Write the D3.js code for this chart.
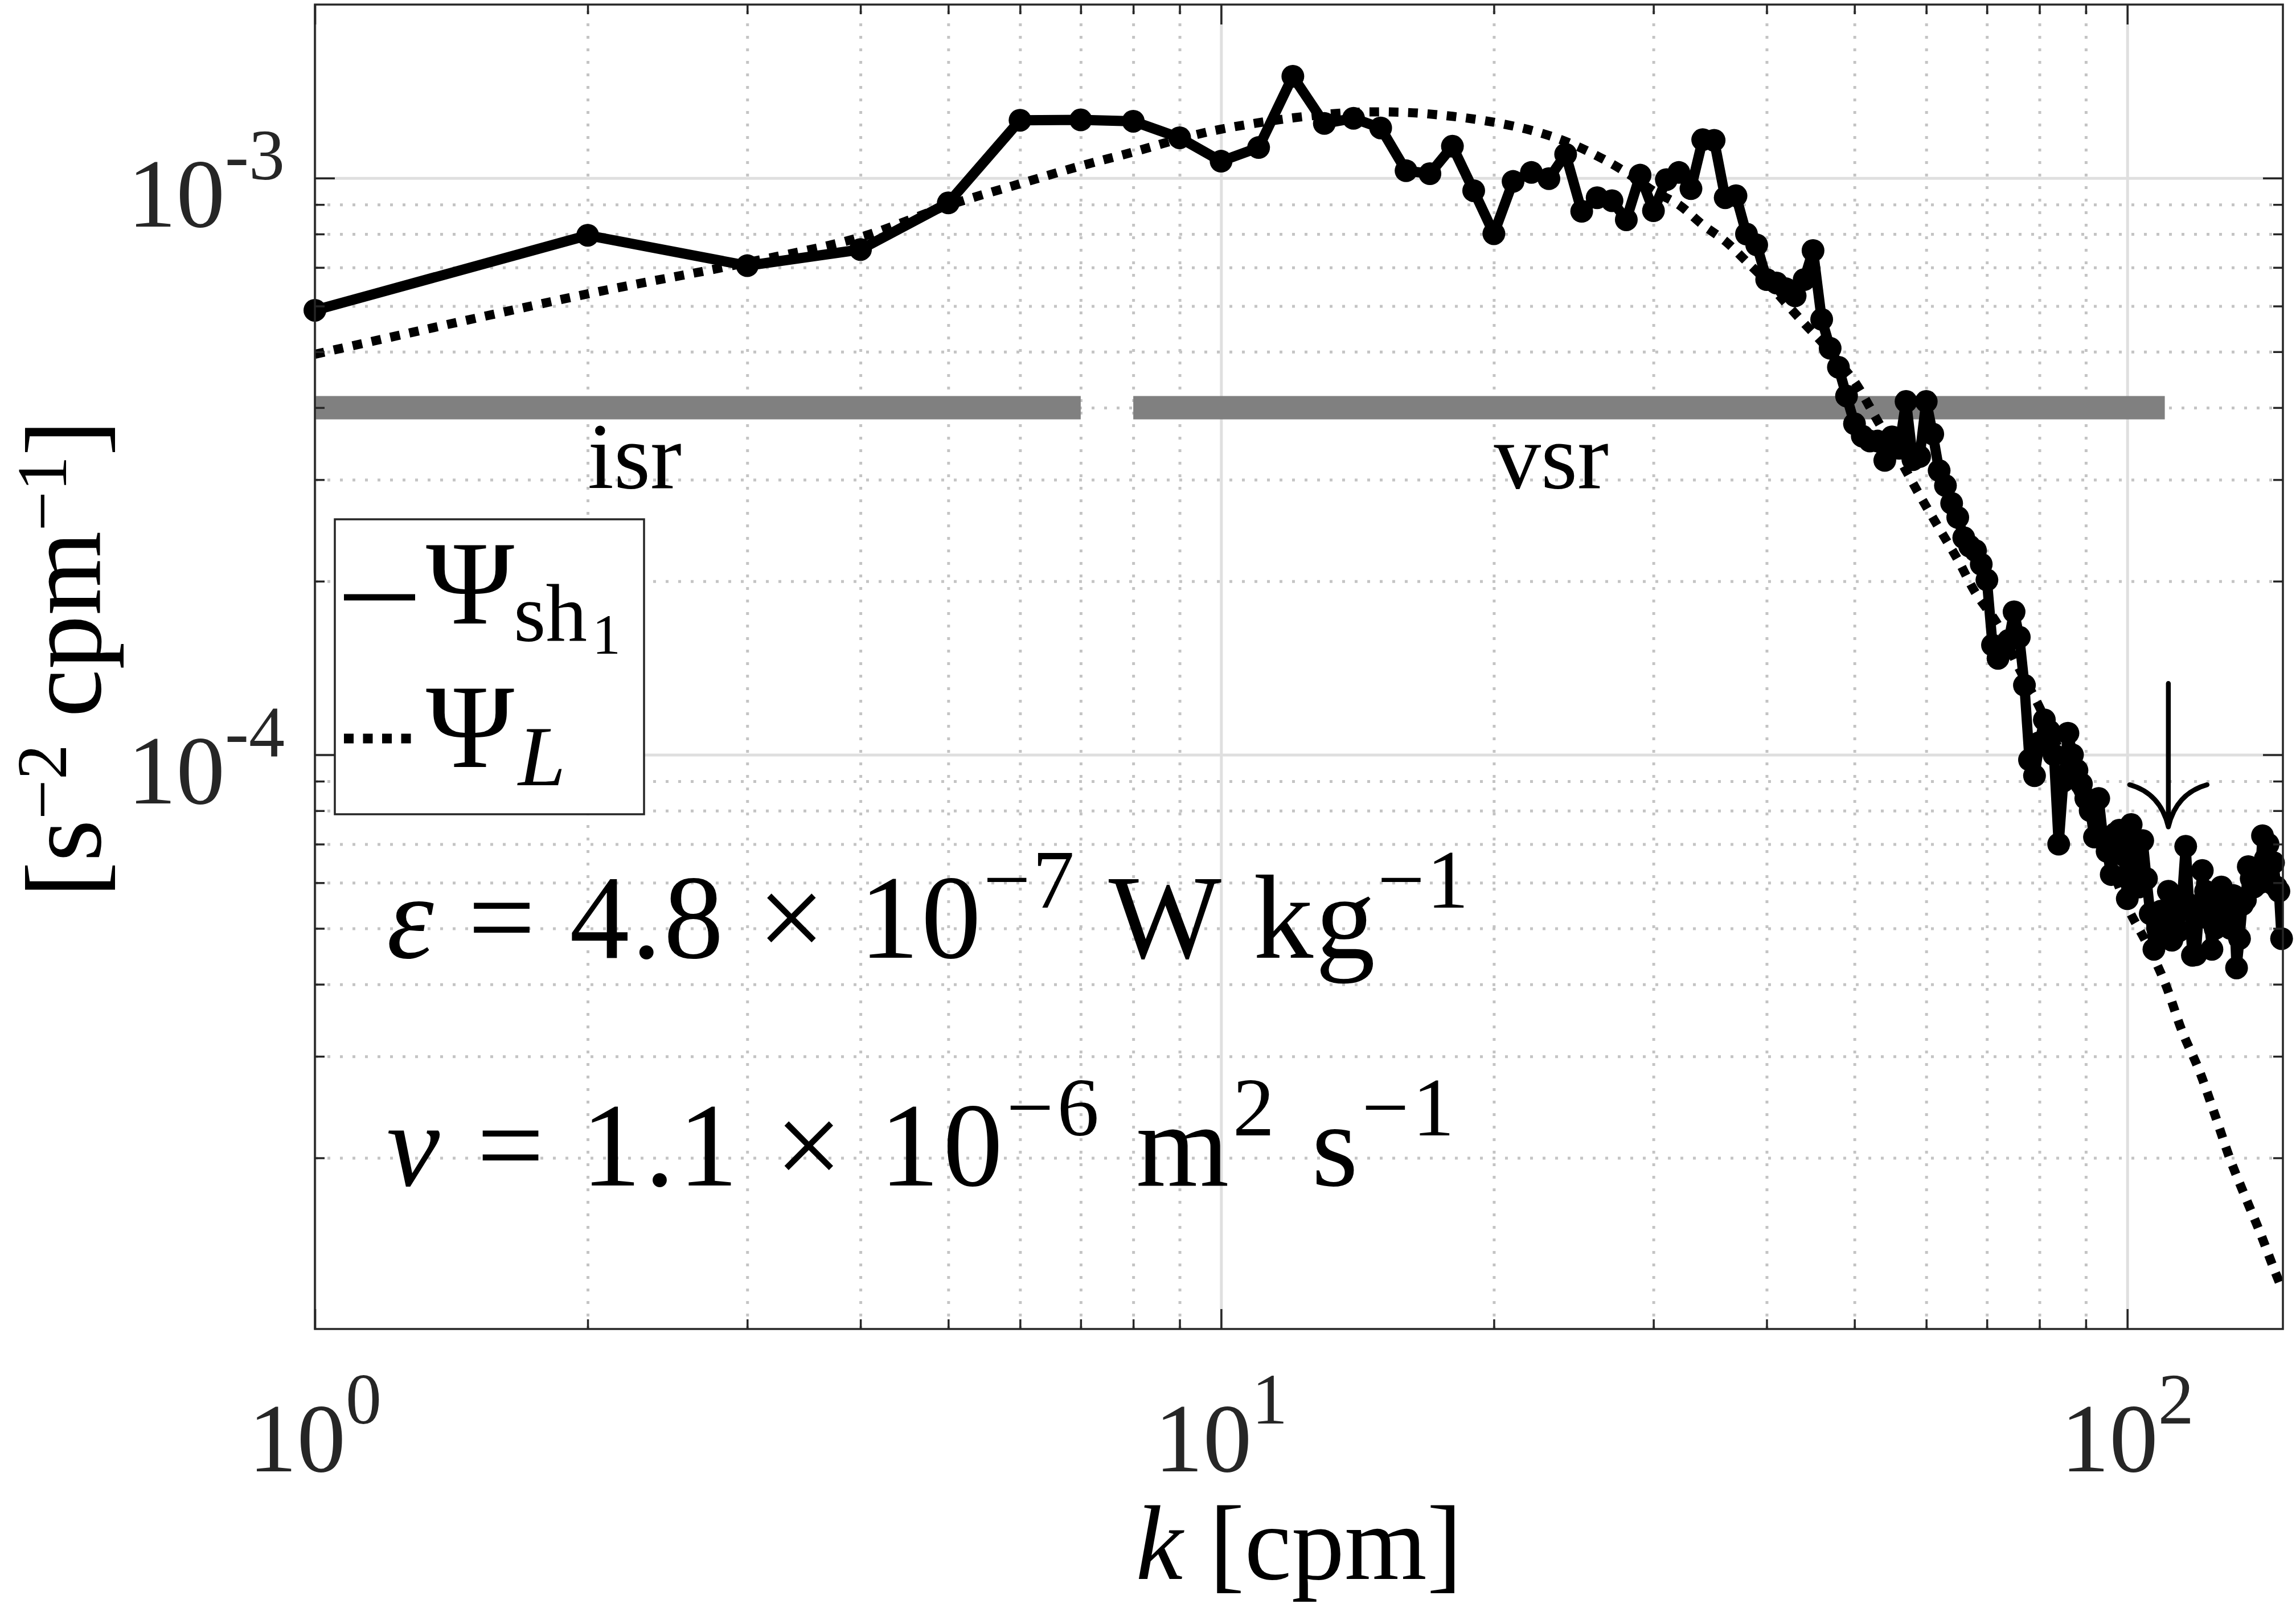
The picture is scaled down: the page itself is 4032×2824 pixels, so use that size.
<!DOCTYPE html>
<html>
<head>
<meta charset="utf-8">
<script src="https://cdn.jsdelivr.net/npm/d3@7"></script>
<style>
  body { margin: 0; background: #fff; }
  text { font-family: "Liberation Serif", "Times New Roman", serif; white-space: pre; }
</style>
</head>
<body>
<div id="chart"></div>
<script>
// wavenumber of each spectral estimate [cpm]
const kShear = [
  1, 2, 3, 4, 5, 6, 7, 8, 9, 10, 11, 12, 13, 14, 15, 16, 17, 18, 19, 20,
  21, 22, 23, 24, 25, 26, 27, 28, 29, 30, 31, 32, 33, 34, 35, 36, 37, 38, 39, 40,
  41, 42, 43, 44, 45, 46, 47, 48, 49, 50, 51, 52, 53, 54, 55, 56, 57, 58, 59, 60,
  61, 62, 63, 64, 65, 66, 67, 68, 69, 70, 71, 72, 73, 74, 75, 76, 77, 78, 79, 80,
  81, 82, 83, 84, 85, 86, 87, 88, 89, 90, 91, 92, 93, 94, 95, 96, 97, 98, 99, 100,
  101, 102, 103, 104, 105, 106, 107, 108, 109, 110, 111, 112, 113, 114, 115, 116, 117, 118, 119, 120,
  121, 122, 123, 124, 125, 126, 127, 128, 129, 130, 131, 132, 133, 134, 135, 136, 137, 138, 139, 140,
  141, 142, 143, 144, 145, 146, 147, 148
];
// measured shear spectrum Psi_sh1 [s^-2 cpm^-1]
const psiShear = [
  5.9e-4, 7.96e-4, 7.05e-4, 7.52e-4, 9.06e-4, 1.26e-3, 1.262e-3, 1.255e-3, 1.175e-3, 1.07e-3,
  1.13e-3, 1.502e-3, 1.244e-3, 1.27e-3, 1.222e-3, 1.03e-3, 1.018e-3, 1.136e-3, 9.51e-4, 8.01e-4,
  9.87e-4, 1.023e-3, 9.98e-4, 1.10e-3, 8.76e-4, 9.25e-4, 9.14e-4, 8.47e-4, 1.012e-3, 8.78e-4,
  9.94e-4, 1.023e-3, 9.59e-4, 1.166e-3, 1.163e-3, 9.25e-4, 9.32e-4, 8.0e-4, 7.66e-4, 6.67e-4,
  6.58e-4, 6.43e-4, 6.25e-4, 6.67e-4, 7.49e-4, 5.69e-4, 5.07e-4, 4.7e-4, 4.19e-4, 3.75e-4,
  3.57e-4, 3.5e-4, 3.5e-4, 3.24e-4, 3.56e-4, 3.4e-4, 4.1e-4, 3.25e-4, 3.29e-4, 4.1e-4,
  3.6e-4, 3.11e-4, 2.93e-4, 2.73e-4, 2.58e-4, 2.38e-4, 2.3e-4, 2.26e-4, 2.14e-4, 2.01e-4,
  1.55e-4, 1.47e-4, 1.52e-4, 1.58e-4, 1.77e-4, 1.6e-4, 1.32e-4, 9.8e-5, 9.2e-5, 1.05e-4,
  1.15e-4, 1.1e-4, 1.0e-4, 7.0e-5, 9.0e-5, 1.09e-4, 1.0e-4, 9.4e-5, 8.9e-5, 8.4e-5,
  8.0e-5, 7.2e-5, 8.4e-5, 7.2e-5, 6.8e-5, 6.2e-5, 7.3e-5, 7.4e-5, 6.7e-5, 5.63e-5,
  7.57e-5, 6.6e-5, 5.9e-5, 7.1e-5, 6.1e-5, 5.3e-5, 4.6e-5, 5.0e-5, 5.36e-5, 4.9e-5,
  5.8e-5, 4.77e-5, 5.6e-5, 4.95e-5, 5.7e-5, 6.94e-5, 5.5e-5, 4.49e-5, 4.5e-5, 5.4e-5,
  6.3e-5, 5.8e-5, 5.2e-5, 4.6e-5, 5.0e-5, 5.5e-5, 5.9e-5, 5.74e-5, 5.3e-5, 5.0e-5,
  5.7e-5, 4.27e-5, 4.8e-5, 5.5e-5, 5.6e-5, 6.4e-5, 6.1e-5, 5.9e-5, 6.2e-5, 6.0e-5,
  7.24e-5, 6.6e-5, 7.0e-5, 6.0e-5, 6.5e-5, 5.9e-5, 5.8e-5, 4.8e-5
];
// model spectrum Psi_L, read at these wavenumbers
const kModel = [
  1, 2, 3, 4, 5, 6, 7, 8, 9, 10, 12, 14, 16, 18, 20, 22, 24, 26, 28, 30,
  32, 34, 36, 38, 40, 42, 44, 46, 48, 50, 53, 56, 59, 62, 65, 68, 72, 76, 80, 85,
  90, 95, 100, 105, 110, 115, 120, 125, 130, 135, 140, 145, 148
];
const psiModel = [
  4.95e-4, 6.3e-4, 7.14e-4, 7.9e-4, 8.97e-4, 9.78e-4, 1.05e-3, 1.11e-3, 1.17e-3, 1.216e-3,
  1.272e-3, 1.30e-3, 1.30e-3, 1.28e-3, 1.25e-3, 1.21e-3, 1.158e-3, 1.093e-3, 1.023e-3, 9.5e-4,
  8.99e-4, 8.3e-4, 7.78e-4, 7.17e-4, 6.62e-4, 6.07e-4, 5.6e-4, 5.2e-4, 4.8e-4, 4.44e-4,
  3.8e-4, 3.27e-4, 2.82e-4, 2.47e-4, 2.18e-4, 1.91e-4, 1.68e-4, 1.41e-4, 1.21e-4, 9.84e-5,
  8.07e-5, 6.68e-5, 5.45e-5, 4.72e-5, 4.03e-5, 3.31e-5, 2.84e-5, 2.37e-5, 1.98e-5, 1.71e-5,
  1.49e-5, 1.29e-5, 1.19e-5
];
// fitting ranges (inertial / viscous subrange)
const rangeLabels = ["isr", "vsr"];
const rangeStart = [1, 8];
const rangeEnd = [7, 110];
const rangeLevel = 4e-4;
const rangeLabelK = [2, 20];
const rangeLabelPsi = 2.9e-4;
// arrow marking the upper integration limit
const arrowK = 111;
const arrowTop = 1.33e-4;
const arrowTip = 7.5e-5;
// ticks
const xMajorTicks = [1, 10, 100];
const xTickExp = ["0", "1", "2"];
const xMinorTicks = [2, 3, 4, 5, 6, 7, 8, 9, 20, 30, 40, 50, 60, 70, 80, 90];
const yMajorTicks = [1e-4, 1e-3];
const yTickExp = ["-4", "-3"];
const yMinorTicks = [2e-5, 3e-5, 4e-5, 5e-5, 6e-5, 7e-5, 8e-5, 9e-5,
                     2e-4, 3e-4, 4e-4, 5e-4, 6e-4, 7e-4, 8e-4, 9e-4];

const width = 4032, height = 2824;
const plot = { left: 553, right: 4009, top: 8, bottom: 2334 };
const axisColor = "#262626";

const svg = d3.select("#chart").append("svg")
  .attr("width", width)
  .attr("height", height);

const x = d3.scaleLog().domain([1, 148.5]).range([plot.left, plot.right]);
const y = d3.scaleLog().domain([1.01e-5, 2e-3]).range([plot.bottom, plot.top]);
const plotH = plot.bottom - plot.top;
const plotW = plot.right - plot.left;

// helper: text built from parts with super/subscripts
function richText(parent, px, py, parts, size, anchor) {
  const t = parent.append("text")
    .attr("x", px).attr("y", py)
    .attr("font-size", size)
    .attr("text-anchor", anchor || "start");
  let prev = 0;
  parts.forEach((p) => {
    const shift = p.shift || 0;
    t.append("tspan")
      .attr("dy", shift - prev)
      .attr("font-size", p.size || size)
      .attr("font-style", p.italic ? "italic" : null)
      .text(p.text);
    prev = shift;
  });
  return t;
}

// grid: minor dotted, major solid
function gridStyle(g, color, dash) {
  g.select(".domain").remove();
  g.selectAll("line")
    .attr("stroke", color)
    .attr("stroke-width", 5)
    .attr("stroke-dasharray", dash);
}
svg.append("g")
  .attr("transform", `translate(0,${plot.bottom})`)
  .call(d3.axisBottom(x).tickValues(xMinorTicks).tickSize(-plotH).tickFormat(""))
  .call((g) => gridStyle(g, "#c4c4c4", "5 17"));
svg.append("g")
  .attr("transform", `translate(${plot.left},0)`)
  .call(d3.axisLeft(y).tickValues(yMinorTicks).tickSize(-plotW).tickFormat(""))
  .call((g) => gridStyle(g, "#c4c4c4", "5 17"));
svg.append("g")
  .attr("transform", `translate(0,${plot.bottom})`)
  .call(d3.axisBottom(x).tickValues(xMajorTicks).tickSize(-plotH).tickFormat(""))
  .call((g) => gridStyle(g, "#dfdfdf", null));
svg.append("g")
  .attr("transform", `translate(${plot.left},0)`)
  .call(d3.axisLeft(y).tickValues(yMajorTicks).tickSize(-plotW).tickFormat(""))
  .call((g) => gridStyle(g, "#dfdfdf", null));

// range bars
svg.append("g").selectAll("line")
  .data(rangeLabels)
  .join("line")
  .attr("x1", (d, i) => x(rangeStart[i]))
  .attr("x2", (d, i) => x(rangeEnd[i]))
  .attr("y1", y(rangeLevel))
  .attr("y2", y(rangeLevel))
  .attr("stroke", "#808080")
  .attr("stroke-width", 41);

svg.append("g").selectAll("text")
  .data(rangeLabels)
  .join("text")
  .attr("x", (d, i) => x(rangeLabelK[i]))
  .attr("y", y(rangeLabelPsi))
  .attr("font-size", 165)
  .text((d) => d);

// clip for lines
svg.append("clipPath").attr("id", "plotClip")
  .append("rect")
  .attr("x", plot.left).attr("y", plot.top)
  .attr("width", plotW).attr("height", plotH);

const shearData = kShear.map((k, i) => ({ k: k, v: psiShear[i] }));
const modelData = kModel.map((k, i) => ({ k: k, v: psiModel[i] }));

const line = d3.line().x((d) => x(d.k)).y((d) => y(d.v));

// measured spectrum
svg.append("path")
  .datum(shearData)
  .attr("clip-path", "url(#plotClip)")
  .attr("d", line)
  .attr("fill", "none")
  .attr("stroke", "#000")
  .attr("stroke-width", 18)
  .attr("stroke-linejoin", "round");

svg.append("g").selectAll("circle")
  .data(shearData)
  .join("circle")
  .attr("cx", (d) => x(d.k))
  .attr("cy", (d) => y(d.v))
  .attr("r", 20)
  .attr("fill", "#000");

// model spectrum
svg.append("path")
  .datum(modelData)
  .attr("clip-path", "url(#plotClip)")
  .attr("d", line.curve(d3.curveCatmullRom))
  .attr("fill", "none")
  .attr("stroke", "#000")
  .attr("stroke-width", 16)
  .attr("stroke-dasharray", "17 17");

// arrow (LaTeX \downarrow)
const ax = x(arrowK), aTop = y(arrowTop), aTip = y(arrowTip);
svg.append("path")
  .attr("d", `M${ax},${aTop}L${ax},${aTip}` +
    `M${ax - 68},${aTip - 74}Q${ax - 14},${aTip - 59} ${ax},${aTip}` +
    `M${ax + 68},${aTip - 74}Q${ax + 14},${aTip - 59} ${ax},${aTip}`)
  .attr("fill", "none")
  .attr("stroke", "#000")
  .attr("stroke-width", 8.5)
  .attr("stroke-linecap", "round");

// tick marks on all four sides, inward
function tickStyle(g) {
  g.select(".domain").remove();
  g.selectAll("line").attr("stroke", axisColor).attr("stroke-width", 3.5);
}
[[xMajorTicks, 35], [xMinorTicks, 17]].forEach(([vals, len]) => {
  svg.append("g").attr("transform", `translate(0,${plot.bottom})`)
    .call(d3.axisBottom(x).tickValues(vals).tickSize(-len).tickFormat("")).call(tickStyle);
  svg.append("g").attr("transform", `translate(0,${plot.top})`)
    .call(d3.axisTop(x).tickValues(vals).tickSize(-len).tickFormat("")).call(tickStyle);
});
[[yMajorTicks, 35], [yMinorTicks, 17]].forEach(([vals, len]) => {
  svg.append("g").attr("transform", `translate(${plot.left},0)`)
    .call(d3.axisLeft(y).tickValues(vals).tickSize(-len).tickFormat("")).call(tickStyle);
  svg.append("g").attr("transform", `translate(${plot.right},0)`)
    .call(d3.axisRight(y).tickValues(vals).tickSize(-len).tickFormat("")).call(tickStyle);
});

// axes box
svg.append("rect")
  .attr("x", plot.left).attr("y", plot.top)
  .attr("width", plotW).attr("height", plotH)
  .attr("fill", "none")
  .attr("stroke", axisColor)
  .attr("stroke-width", 3.5);

// tick labels
const tickLabels = svg.append("g").attr("fill", axisColor);
xMajorTicks.forEach((t, i) => {
  richText(tickLabels, x(t), plot.bottom + 250,
    [{ text: "10" }, { text: xTickExp[i], size: 126, shift: -84 }], 171, "middle");
});
yMajorTicks.forEach((t, i) => {
  richText(tickLabels, plot.left - 53, y(t) + 85,
    [{ text: "10" }, { text: yTickExp[i], size: 126, shift: -83 }], 171, "end");
});

// axis labels
richText(svg, (plot.left + plot.right) / 2, 2773,
  [{ text: "k", italic: true }, { text: " [cpm]" }], 186, "middle");

const yLab = svg.append("g").attr("transform", `translate(176,${(plot.top + plot.bottom) / 2 - 14}) rotate(-90)`);
richText(yLab, 0, 0,
  [{ text: "[s" }, { text: "−2", size: 124, shift: -60 }, { text: " cpm" },
   { text: "−1", size: 124, shift: -60 }, { text: "]" }], 190, "middle");

// parameter annotations
richText(svg, x(1.2), y(4.45e-5),
  [{ text: "ε", italic: true }, { text: " = 4.8 × 10" },
   { text: "−7", size: 147, shift: -88 }, { text: " W kg" },
   { text: "−1", size: 147, shift: -88 }], 210)
  .attr("textLength", 1900).attr("lengthAdjust", "spacing");
richText(svg, x(1.2), y(1.79e-5),
  [{ text: "ν", italic: true }, { text: " = 1.1 × 10" },
   { text: "−6", size: 147, shift: -88 }, { text: " m" },
   { text: "2", size: 147, shift: -88 }, { text: " s" },
   { text: "−1", size: 147, shift: -88 }], 210)
  .attr("textLength", 1875).attr("lengthAdjust", "spacing");

// legend
const legend = svg.append("g").attr("transform", "translate(588,912)");
legend.append("rect")
  .attr("width", 543).attr("height", 518)
  .attr("fill", "#fff")
  .attr("stroke", axisColor)
  .attr("stroke-width", 3.5);
legend.append("line")
  .attr("x1", 16).attr("x2", 141).attr("y1", 137).attr("y2", 137)
  .attr("stroke", "#000").attr("stroke-width", 11);
legend.append("line")
  .attr("x1", 16).attr("x2", 136).attr("y1", 385).attr("y2", 385)
  .attr("stroke", "#000").attr("stroke-width", 17)
  .attr("stroke-dasharray", "17 16.5");
legend.append("text").attr("x", 160).attr("y", 183).attr("font-size", 210).text("Ψ");
legend.append("text").attr("x", 314).attr("y", 214).attr("font-size", 145).text("sh");
legend.append("text").attr("x", 452).attr("y", 236).attr("font-size", 100).text("1");
legend.append("text").attr("x", 160).attr("y", 435).attr("font-size", 210).text("Ψ");
legend.append("text").attr("x", 322).attr("y", 467).attr("font-size", 150)
  .attr("font-style", "italic").text("L");
</script>
</body>
</html>
